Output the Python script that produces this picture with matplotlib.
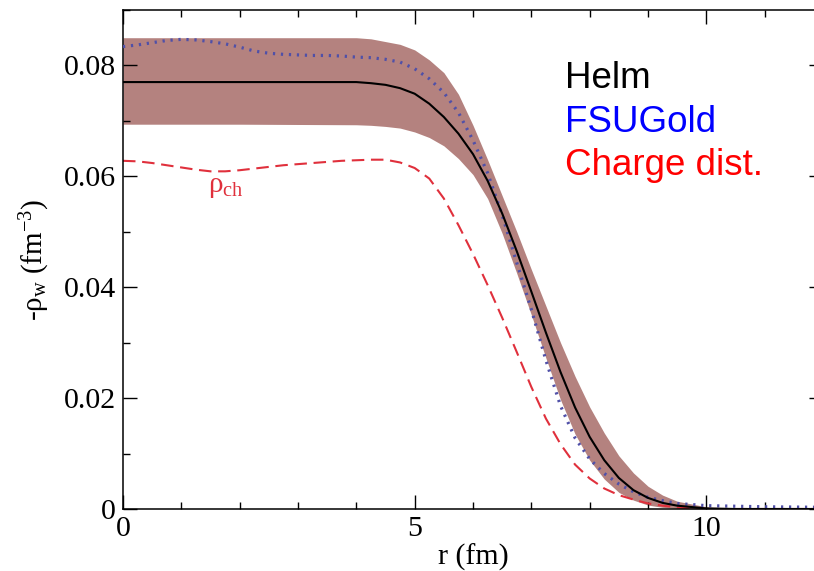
import matplotlib
matplotlib.use("Agg")
import matplotlib.pyplot as plt
from matplotlib.ticker import MultipleLocator

plt.rcParams["font.family"] = ["Liberation Serif", "DejaVu Serif"]
plt.rcParams["mathtext.fontset"] = "custom"
plt.rcParams["mathtext.rm"] = "Liberation Serif"
plt.rcParams["mathtext.it"] = "Liberation Serif:italic"

# radial grid for the Helm curve and its uncertainty band (fm)
r_band = [0.0, 2.0, 4.0, 4.25, 4.5, 4.75, 5.0, 5.25, 5.5, 5.75, 6.0, 6.25, 6.5, 6.75,
          7.0, 7.25, 7.5, 7.75, 8.0, 8.25, 8.5, 8.75, 9.0, 9.25, 9.5, 10.0, 10.5, 12.0]
helm = [0.0770, 0.0770, 0.0770, 0.0768, 0.0765, 0.0759, 0.0749, 0.0731, 0.0707, 0.0677,
        0.0640, 0.0592, 0.0533, 0.0465, 0.0392, 0.0318, 0.0247, 0.0183, 0.0130, 0.0088,
        0.0056, 0.0034, 0.0020, 0.0011, 0.0006, 0.0001, 0.0, 0.0]
band_hi = [0.0850, 0.0850, 0.0850, 0.0848, 0.0843, 0.0838, 0.0828, 0.0810, 0.0787, 0.0748,
           0.0692, 0.0630, 0.0565, 0.0500, 0.0432, 0.0366, 0.0300, 0.0239, 0.0184, 0.0137,
           0.0096, 0.0065, 0.0041, 0.0025, 0.0014, 0.0004, 0.0001, 0.0]
band_lo = [0.0694, 0.0694, 0.0693, 0.0692, 0.0690, 0.0687, 0.0680, 0.0670, 0.0655, 0.0632,
           0.0603, 0.0560, 0.0497, 0.0425, 0.0350, 0.0272, 0.0197, 0.0135, 0.0088, 0.0054,
           0.0030, 0.0016, 0.0007, 0.0003, 0.0001, 0.0, 0.0, 0.0]

# finer grid for FSUGold and the charge density
r_fine = [0.0, 0.25, 0.5, 0.75, 1.0, 1.25, 1.5, 1.75, 2.0, 2.25, 2.5, 2.75, 3.0, 3.25,
          3.5, 3.75, 4.0, 4.25, 4.5, 4.75, 5.0, 5.25, 5.5, 5.75, 6.0, 6.25, 6.5, 6.75,
          7.0, 7.25, 7.5, 7.75, 8.0, 8.25, 8.5, 8.75, 9.0, 9.25, 9.5, 9.75, 10.0,
          10.5, 11.0, 12.0]
fsugold = [0.0834, 0.0837, 0.0841, 0.0845, 0.0847, 0.0846, 0.0843, 0.0839, 0.0833, 0.0826,
           0.0822, 0.0820, 0.0819, 0.0818, 0.0818, 0.0817, 0.0815, 0.0814, 0.0811, 0.0806,
           0.0794, 0.0776, 0.0751, 0.0715, 0.0665, 0.0606, 0.0530, 0.0444, 0.0360, 0.0268,
           0.0186, 0.0128, 0.0090, 0.0064, 0.0045, 0.0031, 0.0021, 0.0015, 0.0010, 0.0008,
           0.0006, 0.0005, 0.0004, 0.0003]
charge = [0.0628, 0.0627, 0.0624, 0.0620, 0.0616, 0.0612, 0.0609, 0.0609, 0.0611, 0.0614,
          0.0617, 0.0620, 0.0622, 0.0624, 0.0626, 0.0628, 0.0629, 0.0630, 0.0630, 0.0625,
          0.0615, 0.0596, 0.0560, 0.0512, 0.0460, 0.0404, 0.0345, 0.0283, 0.0220, 0.0163,
          0.0117, 0.0080, 0.0055, 0.0037, 0.0025, 0.0017, 0.0010, 0.0006, 0.0003, 0.0001,
          0.0, 0.0, 0.0, 0.0]

fig = plt.figure(figsize=(8.14, 5.71), dpi=100)
# the frame runs to r = 12 and is cut by the right edge of the figure
ax = fig.add_axes([0.1511, 0.1086, 0.860, 0.8739])

ax.fill_between(r_band, band_lo, band_hi, color="#b4827f", lw=0, zorder=1)
ax.plot(r_fine, charge, color="#e0303c", lw=1.5, dashes=(6, 3.2), zorder=2)
ax.plot(r_fine, fsugold, color="#5050a8", lw=2.3, linestyle=(0, (0.7, 1.8)), zorder=3)
ax.plot(r_band, helm, color="black", lw=1.5, zorder=4)

ax.text(1.45, 0.0572, r"ρ$_{\mathrm{ch}}$", color="#e0303c", fontsize=21)

sans = ["Liberation Sans", "DejaVu Sans"]
ax.text(7.58, 0.0759, "Helm", color="black", fontsize=26.5, family=sans)
ax.text(7.58, 0.0680, "FSUGold", color="#0000ff", fontsize=26.5, family=sans)
ax.text(7.58, 0.0602, "Charge dist.", color="#ff0000", fontsize=26.5, family=sans)

ax.set_xlim(0, 12)
ax.set_ylim(0, 0.09)
ax.xaxis.set_major_locator(MultipleLocator(5))
ax.xaxis.set_minor_locator(MultipleLocator(1))
ax.yaxis.set_major_locator(MultipleLocator(0.02))
ax.yaxis.set_minor_locator(MultipleLocator(0.01))
ax.set_yticks([0, 0.02, 0.04, 0.06, 0.08])
ax.set_yticklabels(["0", "0.02", "0.04", "0.06", "0.08"])
ax.tick_params(which="both", direction="in", top=True, right=True, labelsize=21.5,
               width=1.0, colors="black", pad=5)
ax.tick_params(which="major", length=10)
ax.tick_params(which="minor", length=5)
for s in ax.spines.values():
    s.set_linewidth(1.1)

ax.set_xlabel("r (fm)", fontsize=21.5, labelpad=1)
ax.set_ylabel(r"-ρ$_{\mathrm{w}}$ (fm$^{\mathrm{-3}}$)", fontsize=21)
ax.yaxis.set_label_coords(-0.101, 0.5)

fig.savefig("out.png", dpi=100)
